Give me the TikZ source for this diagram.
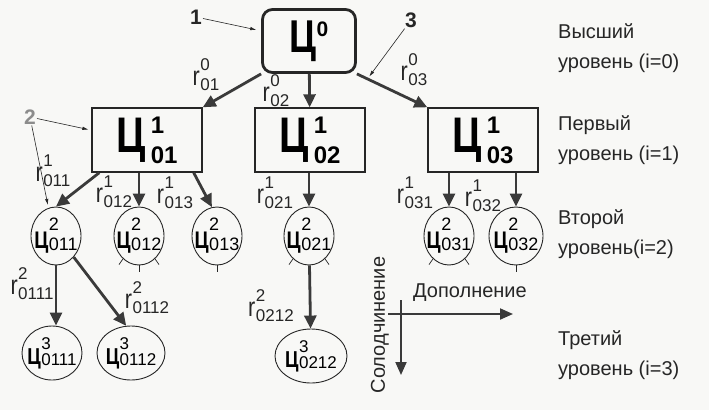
\documentclass[tikz,border=0pt]{standalone}
\usepackage{fontspec}
\setmainfont{Liberation Sans}
\usetikzlibrary{arrows.meta,shapes.geometric}
\definecolor{ink}{HTML}{262626}
\definecolor{wire}{HTML}{3A3A3A}
\definecolor{paper}{HTML}{F8F8F6}
\definecolor{pale}{HTML}{8C8C8C}
\newcommand\scr{}
\newcommand\sdrop{0pt}
\newcommand\sgap{0pt}
\newcommand\skern{.5pt}
\newcommand\ce{\scalebox{.8}[1]{\bfseries Ц}}
\newcommand\rs{\scalebox{.8}[1]{r}}
\newcommand\idx[3]{#1\kern\skern\raisebox{-\sdrop}{\shortstack[l]{\scr#2\\[\sgap]\scr#3}}}
\newcommand\cz[2]{\makebox[0pt]{\idx{\ce}{#1}{#2}}}
\begin{document}
\begin{tikzpicture}[x=1pt,y=1pt,
  rootbox/.style={draw=ink,line width=2.8pt,rounded corners=10pt,minimum width=93pt,minimum height=63pt,inner sep=0pt,
    font=\fontsize{46}{46}\selectfont\bfseries\def\scr{\fontsize{21}{21}\selectfont}},
  goalbox/.style={draw=ink,line width=1.4pt,minimum width=110pt,minimum height=64pt,inner sep=0pt,
    font={\fontsize{50}{50}\selectfont\bfseries\def\scr{\fontsize{24}{24}\selectfont}\def\sdrop{11pt}\def\sgap{10pt}\def\skern{5pt}}},
  subgoal/.style={ellipse,draw=ink,line width=0.9pt,minimum width=50pt,minimum height=58pt,inner sep=0pt,
    font={\fontsize{24}{24}\selectfont\def\scr{\fontsize{18}{18}\selectfont}\def\sdrop{1.5pt}\def\sgap{4pt}}},
  leafgoal/.style={ellipse,draw=ink,line width=0.9pt,minimum height=54pt,inner sep=0pt,
    font={\fontsize{23}{23}\selectfont\def\scr{\fontsize{17}{17}\selectfont}\def\sdrop{1pt}\def\sgap{1pt}}},
  rlabel/.style={inner sep=0pt,text=ink,
    font={\fontsize{27}{27}\selectfont\def\scr{\fontsize{17}{17}\selectfont}\def\sdrop{5pt}\def\sgap{5pt}}},
  callout/.style={inner sep=1pt,text=ink,font=\fontsize{21}{21}\selectfont\bfseries},
  leveltext/.style={anchor=west,align=left,inner sep=0pt,text=ink,font=\fontsize{20}{30}\selectfont},
  axistext/.style={inner sep=0pt,text=ink,font=\fontsize{20}{20}\selectfont},
  rel/.style={draw=wire,line width=2.8pt,-{Triangle[length=13pt,width=12pt]}},
  axis/.style={draw=wire,line width=2pt,-{Triangle[length=13pt,width=11pt]}},
  pointer/.style={draw=ink,line width=0.6pt,-{Latex[length=6pt,width=3.5pt]},shorten >=3pt},
  stub/.style={draw=ink,line width=0.7pt}]
\fill[paper] (0,0) rectangle (709,-410);
\useasboundingbox (0,0) rectangle (709,-410);
% level 0
\node[rootbox] (c0) at (309,-41) {\ce\raisebox{16pt}{\scr 0}};
% level 1
\node[goalbox] (c01) at (147,-140) {\cz{1}{01}};
\node[goalbox] (c02) at (310,-140) {\cz{1}{02}};
\node[goalbox] (c03) at (483,-140) {\cz{1}{03}};
% level 2
\node[subgoal] (c011) at (56,-236) {\cz{2}{011}};
\node[subgoal] (c012) at (139,-236) {\cz{2}{012}};
\node[subgoal] (c013) at (217,-236) {\cz{2}{013}};
\node[subgoal] (c021) at (309,-236) {\cz{2}{021}};
\node[subgoal] (c031) at (449,-236) {\cz{2}{031}};
\node[subgoal,minimum width=54pt] (c032) at (516,-236) {\cz{2}{032}};
% level 3
\node[leafgoal,minimum width=60pt] (c0111) at (52,-353) {\cz{3}{0111}};
\node[leafgoal,minimum width=68pt] (c0112) at (131,-353) {\cz{3}{0112}};
\node[leafgoal,minimum width=72pt] (c0212) at (311,-356) {\cz{3}{0212}};
% relations
\draw[rel] (c0.south west) -- (c01.north east);
\draw[rel] (c0) -- (c02);
\draw[rel] (c0.south east) -- coordinate[pos=.15] (a3) (c03.north west);
\draw[rel] ([xshift=8pt]c01.south west) -- (c011.north);
\draw[rel] (c012.north |- c01.south) -- (c012.north);
\draw[rel] ([xshift=-9pt]c01.south east) -- (c013.100);
\draw[rel] (c021.north |- c02.south) -- (c021.north);
\draw[rel] (c031.north |- c03.south) -- (c031.north);
\draw[rel] (c032.north |- c03.south) -- (c032.north);
\draw[rel] (c011.south) -- (c011.south |- c0111.north);
\draw[rel] (c011.-50) -- (c0112.100);
\draw[rel] (c021) -- (c0212);
% open branches
\foreach \a in {235,270,305} \draw[stub] (c012.\a) -- ++(\a:7);
\draw[stub] (c013.270) -- ++(270:7);
\foreach \a in {235,305} \draw[stub] (c021.\a) -- ++(\a:7);
\foreach \a in {235,305} \draw[stub] (c031.\a) -- ++(\a:7);
\draw[stub] (c032.270) -- ++(270:7);
% relation labels
\node[rlabel] (r01) at (206,-75) {\idx{\rs}{0}{01}};
\node[rlabel] (r02) at (276,-91) {\idx{\rs}{0}{02}};
\node[rlabel] (r03) at (414,-70) {\idx{\rs}{0}{03}};
\node[rlabel] (r011) at (53,-171) {\idx{\rs}{1}{011}};
\node[rlabel] (r012) at (114,-192) {\idx{\rs}{1}{012}};
\node[rlabel] (r013) at (175,-193) {\idx{\rs}{1}{013}};
\node[rlabel] (r021) at (275,-193) {\idx{\rs}{1}{021}};
\node[rlabel] (r031) at (415,-193) {\idx{\rs}{1}{031}};
\node[rlabel] (r032) at (483,-196) {\idx{\rs}{1}{032}};
\node[rlabel] (r0111) at (32,-284) {\idx{\rs}{2}{0111}};
\node[rlabel] (r0112) at (147,-298) {\idx{\rs}{2}{0112}};
\node[rlabel] (r0212) at (271,-306) {\idx{\rs}{2}{0212}};
% callouts
\node[callout] (p1) at (196,-17) {1};
\node[callout,text=pale] (p2) at (30,-117) {2};
\node[callout] (p3) at (411,-20) {3};
\draw[pointer,shorten >=5pt] (p1) -- (c0);
\draw[pointer] (p2) -- (c01.170);
\draw[pointer] (p2) -- (c011.105);
\draw[pointer] (p3) -- (a3);
% levels
\node[leveltext] (lv0) at (558,-48) {Высший\\уровень (i=0)};
\node[leveltext] (lv1) at (558,-140) {Первый\\уровень (i=1)};
\node[leveltext] (lv2) at (558,-234) {Второй\\уровень(i=2)};
\node[leveltext] (lv3) at (558,-355) {Третий\\уровень (i=3)};
% axes
\coordinate (v0) at (401,-300);
\coordinate (v1) at (401,-375);
\coordinate (h0) at (388,-314);
\coordinate (h1) at (513,-314);
\draw[axis] (v0) -- (v1);
\draw[axis] (h0) -- (h1);
\node[axistext,rotate=90] (sub) at (380,-325) {Солодчинение};
\node[axistext] (add) at (470,-293) {Дополнение};
\end{tikzpicture}
\end{document}
